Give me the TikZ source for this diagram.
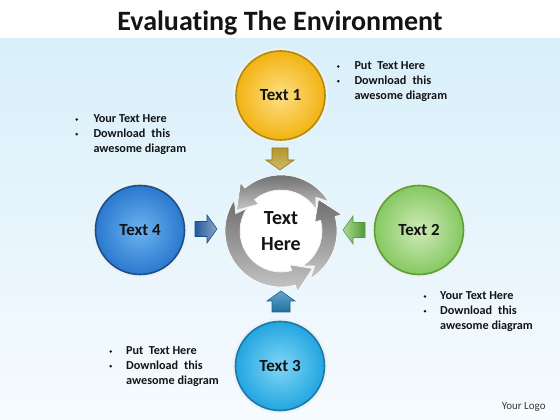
\documentclass[tikz,border=0pt]{standalone}
\usepackage{fontspec}
\setmainfont{Carlito}[Ligatures=NoCommon]
\definecolor{bgtop}{HTML}{D8EFFA}
\definecolor{bgbot}{HTML}{F6FBFE}
\definecolor{haloc}{HTML}{EEF1F2}
\definecolor{yin}{HTML}{FDDF84}
\definecolor{yout}{HTML}{F2B312}
\definecolor{ybd}{HTML}{B08A10}
\definecolor{bin}{HTML}{6DB3F0}
\definecolor{bout}{HTML}{2B79CE}
\definecolor{bbd}{HTML}{1B4F8E}
\definecolor{gin}{HTML}{CFEBB8}
\definecolor{gout}{HTML}{86C862}
\definecolor{gbd}{HTML}{5C9E3A}
\definecolor{lin}{HTML}{80D6F7}
\definecolor{lout}{HTML}{22A6E0}
\definecolor{lbd}{HTML}{1A78AE}
\definecolor{ringtop}{HTML}{6E6E6E}
\definecolor{ringbot}{HTML}{C6C6C6}
\definecolor{txt}{HTML}{141414}
\definecolor{logoc}{HTML}{3A3A3A}
\definecolor{yaDark}{HTML}{B8952C}
\definecolor{yaLight}{HTML}{CDBA6A}
\definecolor{yaBd}{HTML}{8E7622}
\definecolor{baDark}{HTML}{245A9C}
\definecolor{baLight}{HTML}{8AA6C8}
\definecolor{baBd}{HTML}{1E4E88}
\definecolor{gaDark}{HTML}{4E9C32}
\definecolor{gaLight}{HTML}{AEDA96}
\definecolor{gaBd}{HTML}{5A9A3E}
\definecolor{taDark}{HTML}{22709E}
\definecolor{taLight}{HTML}{62A6CC}
\definecolor{taBd}{HTML}{1D628C}
\begin{document}
\begin{tikzpicture}[x=1pt,y=1pt,
  disk/.style n args={3}{circle, minimum size=89pt, inner sep=0pt,
    inner color=#1, outer color=#2, draw=#3, line width=1.6pt,
    preaction={draw=haloc, line width=6pt},
    text=txt, font=\bfseries\fontsize{17}{19}\selectfont},
  ringseg/.style={top color=ringtop, bottom color=ringbot, draw=white, line width=0.6pt},
  btxt/.style={inner sep=0pt, text=txt, font=\bfseries\fontsize{12.2}{14.7}\selectfont},
  bdot/.style={circle, fill=txt, inner sep=0pt, minimum size=2.8pt},
  arrow shape/.style={line width=0.6pt}
]
\useasboundingbox (0,0) rectangle (560,420);
\fill[white] (0,0) rectangle (560,420);
\shade[top color=bgtop, bottom color=bgbot] (0,0) rectangle (560,381);

% title
\node[inner sep=0pt, anchor=base, text=txt, font=\bfseries\fontsize{28}{30}\selectfont] (title) at (280,389) {Evaluating The Environment};

% circles
\node[disk={yin}{yout}{ybd}] (t1) at (280.5,324.5) {Text 1};
\node[disk={gin}{gout}{gbd}] (t2) at (419,190) {Text 2};
\node[disk={lin}{lout}{lbd}] (t3) at (280,54) {Text 3};
\node[disk={bin}{bout}{bbd}] (t4) at (140,190) {Text 4};

% centre ring
\node[circle, minimum size=82pt, inner sep=0pt, fill=white, draw=gray!15, line width=0.8pt] (ring) at (281,189) {};
\begin{scope}[shift={(ring.center)}]
  \path[ringseg] (31.5:56) arc[start angle=31.5, end angle=130, radius=56] -- (130:63) -- (155:49) -- (130:35) -- (130:41) arc[start angle=130, end angle=31.5, radius=41] -- (44:48.5) -- cycle;
  \path[ringseg] (146.5:56) arc[start angle=146.5, end angle=285, radius=56] -- (285:63) -- (310:49) -- (285:35) -- (285:41) arc[start angle=285, end angle=146.5, radius=41] -- (159:48.5) -- cycle;
  \path[ringseg] (301.5:56) arc[start angle=301.5, end angle=375, radius=56] -- (375:63) -- (400:49) -- (375:35) -- (375:41) arc[start angle=375, end angle=301.5, radius=41] -- (314:48.5) -- cycle;
\end{scope}
\node[align=center, inner sep=0pt, text=txt, font=\bfseries\fontsize{20}{26}\selectfont] (ctext) at (ring.center) {Text\\Here};

% small arrows
\path[shift={(280,261)}, arrow shape, top color=yaDark, bottom color=yaLight, draw=yaBd]
  (-8,11) -- (-8,-1) -- (-14,-1) -- (0,-11) -- (14,-1) -- (8,-1) -- (8,11) -- cycle;
\path[shift={(206,191)}, arrow shape, left color=baDark, right color=baLight, draw=baBd]
  (-11,-7.5) -- (1,-7.5) -- (1,-14) -- (11,0) -- (1,14) -- (1,7.5) -- (-11,7.5) -- cycle;
\path[shift={(354,190)}, arrow shape, right color=gaDark, left color=gaLight, draw=gaBd]
  (11,7.5) -- (-1,7.5) -- (-1,14) -- (-11,0) -- (-1,-14) -- (-1,-7.5) -- (11,-7.5) -- cycle;
\path[shift={(281,118)}, arrow shape, bottom color=taDark, top color=taLight, draw=taBd]
  (9,-10) -- (9,1) -- (14,1) -- (0,11) -- (-14,1) -- (-9,1) -- (-9,-10) -- cycle;

% bullet lists
\node[bdot] (ba1) at (338.3,353.5) {};
\node[bdot] (ba2) at (338.3,338.8) {};
\node[btxt, anchor=base west] (la1) at (354.3,350) {Put\ \ Text Here};
\node[btxt, anchor=base west] (la2) at (354.3,335.3) {Download\hspace{6pt}this};
\node[btxt, anchor=base west] (la3) at (354.3,320.6) {awesome diagram};

\node[bdot] (bb1) at (76.7,300.5) {};
\node[bdot] (bb2) at (76.7,285.8) {};
\node[btxt, anchor=base west] (lb1) at (93.3,297) {Your Text Here};
\node[btxt, anchor=base west] (lb2) at (93.3,282.3) {Download\hspace{6pt}this};
\node[btxt, anchor=base west] (lb3) at (93.3,267.6) {awesome diagram};

\node[bdot] (bc1) at (425,123.5) {};
\node[bdot] (bc2) at (425,108.8) {};
\node[btxt, anchor=base west] (lc1) at (440,120) {Your Text Here};
\node[btxt, anchor=base west] (lc2) at (440,105.3) {Download\hspace{6pt}this};
\node[btxt, anchor=base west] (lc3) at (440,90.6) {awesome diagram};

\node[bdot] (bd1) at (110.7,68.5) {};
\node[bdot] (bd2) at (110.7,53.8) {};
\node[btxt, anchor=base west] (ld1) at (126,65) {Put\ \ Text Here};
\node[btxt, anchor=base west] (ld2) at (126,50.3) {Download\hspace{6pt}this};
\node[btxt, anchor=base west] (ld3) at (126,35.6) {awesome diagram};

% logo
\node[inner sep=0pt, text=logoc, font=\fontsize{11}{13}\selectfont] (logo) at (523.7,13.3) {Your Logo};
\end{tikzpicture}
\end{document}
